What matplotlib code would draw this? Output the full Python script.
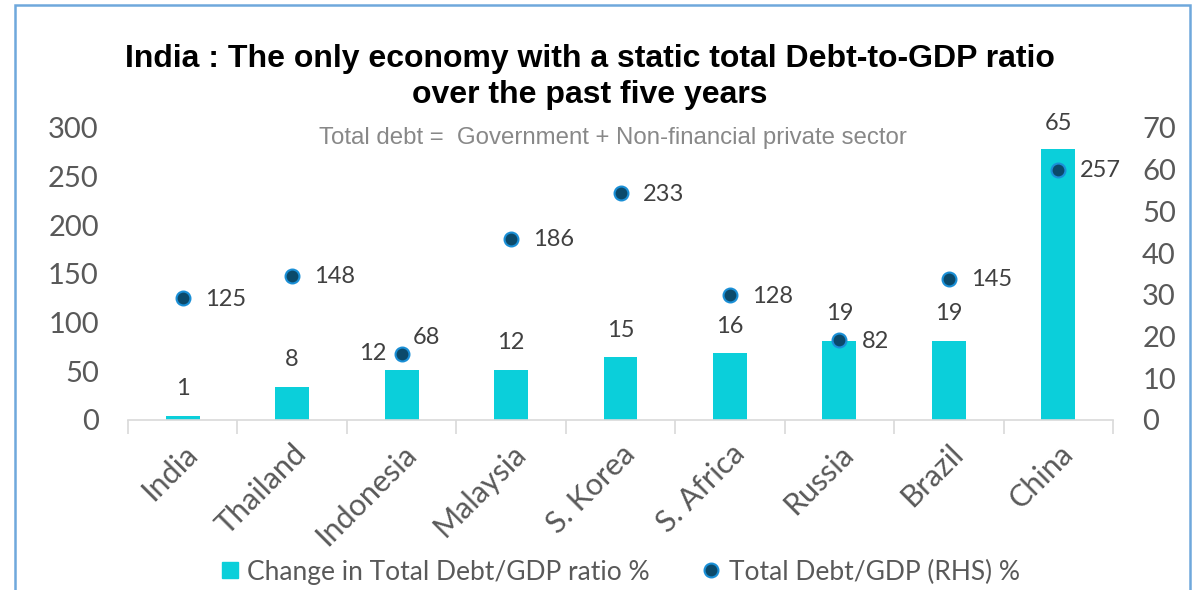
import matplotlib
matplotlib.use('Agg')
import matplotlib.pyplot as plt
from matplotlib.lines import Line2D
from matplotlib.patches import Rectangle

countries = ['India', 'Thailand', 'Indonesia', 'Malaysia', 'S. Korea', 'S. Africa', 'Russia', 'Brazil', 'China']
change_ratio = [1, 8, 12, 12, 15, 16, 19, 19, 65]
total_debt = [125, 148, 68, 186, 233, 128, 82, 145, 257]

bar_color = '#0BCFDA'
dot_face = '#0B4A6B'
dot_edge = '#1A8FD6'
label_color = '#404040'
tick_color = '#595959'
lato = ['Lato', 'DejaVu Sans']
arial = ['Liberation Sans', 'DejaVu Sans']

fig = plt.figure(figsize=(12.01, 5.9), dpi=100)
ax = fig.add_axes([128 / 1201, 1 - 420 / 590, 985 / 1201, 292 / 590])
ax2 = ax.twinx()
ax.set_zorder(ax2.get_zorder() + 1)
ax.patch.set_visible(False)

x = list(range(len(countries)))

# bars on right-hand scale
ax2.bar(x, change_ratio, width=0.31, color=bar_color)
ax2.set_ylim(0, 70)
ax2.set_yticks(range(0, 71, 10))

# dots on left-hand scale
ax.plot(x, total_debt, linestyle='none', marker='o', markersize=10,
        markerfacecolor=dot_face, markeredgecolor=dot_edge, markeredgewidth=1.5)
ax.set_ylim(0, 300)
ax.set_yticks(range(0, 301, 50))
ax.set_xlim(-0.5, len(countries) - 0.5)

for a in (ax, ax2):
    for s in ['top', 'left', 'right']:
        a.spines[s].set_visible(False)
    a.spines['bottom'].set_color('#D9D9D9')
    a.spines['bottom'].set_linewidth(1.2)
ax2.spines['bottom'].set_visible(False)

ax.tick_params(axis='y', length=0, pad=21, labelsize=21, labelcolor=tick_color)
ax2.tick_params(axis='y', length=0, pad=21, labelsize=21, labelcolor=tick_color)
for lab in ax.get_yticklabels() + ax2.get_yticklabels():
    lab.set_family(lato)

ax.set_xticks(x)
ax.set_xticklabels(countries, rotation=45, ha='right', rotation_mode='anchor',
                   family=lato, fontsize=22, color=tick_color)
ax.tick_params(axis='x', which='major', length=0, pad=14)
ax.set_xticks([i - 0.5 for i in range(len(countries) + 1)], minor=True)
ax.tick_params(axis='x', which='minor', length=10, width=1.2, color='#D9D9D9')

# bar value labels
bar_offsets = {2: (-29, 16), 8: (0, 25)}
for i, v in enumerate(change_ratio):
    dx, dy = bar_offsets.get(i, (0, 27))
    ax2.annotate(str(v), (i, v), xytext=(dx * 0.72, dy * 0.72), textcoords='offset points',
                 ha='center', va='center', fontsize=17, color=label_color, family=lato)

# dot value labels
dot_offsets = {2: (11, 16)}
for i, v in enumerate(total_debt):
    dx, dy = dot_offsets.get(i, (22, -1))
    ax.annotate(str(v), (i, v), xytext=(dx * 0.72, dy * 0.72), textcoords='offset points',
                ha='left', va='center', fontsize=17, color=label_color, family=lato)

fig.text(590 / 1201, 1 - 77 / 590,
         'India : The only economy with a static total Debt-to-GDP ratio\nover the past five years',
         ha='center', va='center', fontsize=23, fontweight='bold', family=arial,
         color='black', linespacing=1.3)
fig.text(613 / 1201, 1 - 138 / 590, 'Total debt =  Government + Non-financial private sector',
         ha='center', va='center', fontsize=17.3, family=arial, color='#888888')

handles = [
    Line2D([], [], linestyle='none', marker='s', markersize=12, markerfacecolor=bar_color,
           markeredgecolor=bar_color),
    Line2D([], [], linestyle='none', marker='o', markersize=10, markerfacecolor=dot_face,
           markeredgecolor=dot_edge, markeredgewidth=1.5),
]
fig.legend(handles, ['Change in Total Debt/GDP ratio %', 'Total Debt/GDP (RHS) %'],
           loc='center', bbox_to_anchor=(620 / 1201, 1 - 572 / 590), ncol=2, frameon=False,
           prop={'family': lato, 'size': 19}, labelcolor=tick_color,
           handlelength=0.7, handletextpad=0.3, columnspacing=2.0)

fig.patches.append(Rectangle((15 / 1201, -0.05), 1175 / 1201, 1.05 - 5 / 590,
                             transform=fig.transFigure, fill=False,
                             edgecolor='#6FA8DC', linewidth=1.8))

fig.savefig('out.png', dpi=100)
